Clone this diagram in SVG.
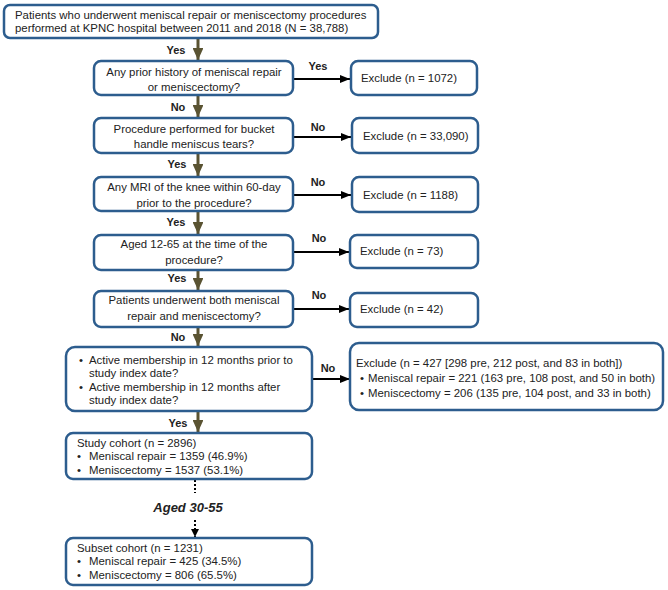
<svg xmlns="http://www.w3.org/2000/svg" width="668" height="590" viewBox="0 0 668 590">
<style>
.box{fill:#fff;stroke:#2d5d8e;stroke-width:2.5}
text{font-family:"Liberation Sans",Arial,sans-serif;font-size:11.4px;fill:#222}
.c{text-anchor:middle}
.lbl{font-weight:bold;font-size:11px;text-anchor:middle}
.v{stroke:#5a5332;stroke-width:3;fill:none}
.h{stroke:#000;stroke-width:2;fill:none}
.d{stroke:#000;stroke-width:2;stroke-dasharray:2 2;fill:none}
</style>
<defs>
<marker id="av" markerWidth="4" markerHeight="3.6" refX="4" refY="1.8" orient="auto" markerUnits="strokeWidth"><path d="M0,0 L4,1.8 L0,3.6 Z" fill="#5a5332"/></marker>
<marker id="ah" markerWidth="5" markerHeight="4" refX="5" refY="2" orient="auto" markerUnits="strokeWidth"><path d="M0,0 L5,2 L0,4 Z" fill="#000"/></marker>
<marker id="ad" markerWidth="4" markerHeight="4" refX="4" refY="2" orient="auto" markerUnits="strokeWidth"><path d="M0,0 L4,2 L0,4 Z" fill="#000"/></marker>
</defs>
<rect width="668" height="590" fill="#fff"/>

<g id="connectors">
<line class="v" x1="198" y1="39" x2="198" y2="60" marker-end="url(#av)"/>
<line class="v" x1="198" y1="96" x2="198" y2="117" marker-end="url(#av)"/>
<line class="v" x1="198" y1="154" x2="198" y2="176" marker-end="url(#av)"/>
<line class="v" x1="198" y1="212" x2="198" y2="234" marker-end="url(#av)"/>
<line class="v" x1="198" y1="271" x2="198" y2="290" marker-end="url(#av)"/>
<line class="v" x1="198" y1="328" x2="198" y2="346" marker-end="url(#av)"/>
<line class="v" x1="198" y1="412" x2="198" y2="432" marker-end="url(#av)"/>
<line class="h" x1="293" y1="79" x2="350" y2="79" marker-end="url(#ah)"/>
<line class="h" x1="293" y1="137" x2="351" y2="137" marker-end="url(#ah)"/>
<line class="h" x1="293" y1="195" x2="351" y2="195" marker-end="url(#ah)"/>
<line class="h" x1="293" y1="252" x2="349" y2="252" marker-end="url(#ah)"/>
<line class="h" x1="293" y1="309" x2="349" y2="309" marker-end="url(#ah)"/>
<line class="h" x1="312" y1="379" x2="350" y2="379" marker-end="url(#ah)"/>
<line class="d" x1="195" y1="480" x2="195" y2="493"/>
<line class="d" x1="195" y1="520" x2="195" y2="537" marker-end="url(#ad)"/>
<text class="lbl" x="176" y="54">Yes</text>
<text class="lbl" x="178" y="111">No</text>
<text class="lbl" x="177" y="168">Yes</text>
<text class="lbl" x="176" y="226">Yes</text>
<text class="lbl" x="177" y="282">Yes</text>
<text class="lbl" x="178" y="341">No</text>
<text class="lbl" x="178" y="427">Yes</text>
<text class="lbl" x="318" y="70">Yes</text>
<text class="lbl" x="318" y="131">No</text>
<text class="lbl" x="318" y="186">No</text>
<text class="lbl" x="319" y="242">No</text>
<text class="lbl" x="319" y="299">No</text>
<text class="lbl" x="328" y="372">No</text>
<text x="188" y="512" style="font-weight:bold;font-style:italic;font-size:13px;text-anchor:middle">Aged 30-55</text>
</g>

<g id="n0">
<rect class="box" x="4" y="5" width="374" height="33" rx="6"/>
<text x="15" y="19">Patients who underwent meniscal repair or meniscectomy procedures</text>
<text x="15" y="32">performed at KPNC hospital between 2011 and 2018 (N = 38,788)</text>
</g>

<g id="q1">
<rect class="box" x="94" y="61" width="199" height="34" rx="7"/>
<text class="c" x="194" y="76">Any prior history of meniscal repair</text>
<text class="c" x="194" y="91">or meniscectomy?</text>
</g>
<g id="e1">
<rect class="box" x="351" y="61" width="126" height="34" rx="7"/>
<text x="361" y="82">Exclude (n = 1072)</text>
</g>

<g id="q2">
<rect class="box" x="94" y="118" width="199" height="35" rx="7"/>
<text class="c" x="194" y="133">Procedure performed for bucket</text>
<text class="c" x="194" y="148">handle meniscus tears?</text>
</g>
<g id="e2">
<rect class="box" x="352" y="118" width="126" height="35" rx="7"/>
<text x="363" y="140">Exclude (n = 33,090)</text>
</g>

<g id="q3">
<rect class="box" x="94" y="177" width="199" height="34" rx="7"/>
<text class="c" x="194" y="191">Any MRI of the knee within 60-day</text>
<text class="c" x="194" y="207">prior to the procedure?</text>
</g>
<g id="e3">
<rect class="box" x="352" y="177" width="126" height="35" rx="7"/>
<text x="363" y="199">Exclude (n = 1188)</text>
</g>

<g id="q4">
<rect class="box" x="94" y="235" width="199" height="35" rx="7"/>
<text class="c" x="194" y="248">Aged 12-65 at the time of the</text>
<text class="c" x="194" y="264">procedure?</text>
</g>
<g id="e4">
<rect class="box" x="350" y="235" width="128" height="33" rx="7"/>
<text x="360" y="255">Exclude (n = 73)</text>
</g>

<g id="q5">
<rect class="box" x="94" y="291" width="199" height="36" rx="7"/>
<text class="c" x="194" y="304">Patients underwent both meniscal</text>
<text class="c" x="194" y="320">repair and meniscectomy?</text>
</g>
<g id="e5">
<rect class="box" x="350" y="293" width="128" height="34" rx="7"/>
<text x="360" y="313">Exclude (n = 42)</text>
</g>

<g id="q6">
<rect class="box" x="66" y="347" width="246" height="64" rx="9"/>
<text x="79" y="364">•</text>
<text x="89" y="364">Active membership in 12 months prior to</text>
<text x="89" y="377">study index date?</text>
<text x="79" y="391">•</text>
<text x="89" y="391">Active membership in 12 months after</text>
<text x="89" y="404">study index date?</text>
</g>
<g id="e6">
<rect class="box" x="350" y="343" width="313" height="67" rx="9"/>
<text x="356" y="367">Exclude (n = 427 [298 pre, 212 post, and 83 in both])</text>
<text x="360" y="382">•</text>
<text x="368" y="382">Meniscal repair = 221 (163 pre, 108 post, and 50 in both)</text>
<text x="360" y="397">•</text>
<text x="368" y="397">Meniscectomy = 206 (135 pre, 104 post, and 33 in both)</text>
</g>

<g id="study">
<rect class="box" x="66" y="433" width="246" height="46" rx="7"/>
<text x="77" y="447">Study cohort (n = 2896)</text>
<text x="77" y="460">•</text>
<text x="89" y="460">Meniscal repair = 1359 (46.9%)</text>
<text x="77" y="474">•</text>
<text x="89" y="474">Meniscectomy = 1537 (53.1%)</text>
</g>

<g id="subset">
<rect class="box" x="66" y="538" width="246" height="47" rx="7"/>
<text x="77" y="552">Subset cohort (n = 1231)</text>
<text x="77" y="565">•</text>
<text x="89" y="565">Meniscal repair = 425 (34.5%)</text>
<text x="77" y="579">•</text>
<text x="89" y="579">Meniscectomy = 806 (65.5%)</text>
</g>
</svg>
